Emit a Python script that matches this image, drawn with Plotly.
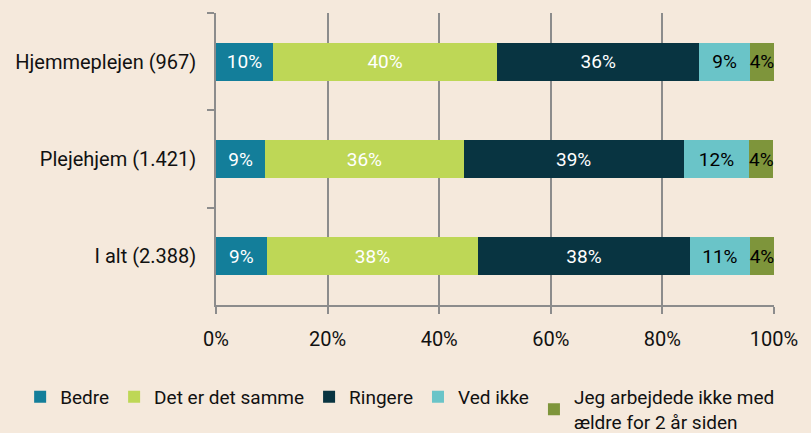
import plotly.graph_objects as go

categories = ["Hjemmeplejen (967)", "Plejehjem (1.421)", "I alt (2.388)"]
series_names = ["Bedre", "Det er det samme", "Ringere", "Ved ikke",
                "Jeg arbejdede ikke med<br>ældre for 2 år siden"]
bedre = [10.2, 8.8, 9.1]
samme = [40.2, 35.6, 37.9]
ringere = [36.2, 39.4, 37.9]
ved_ikke = [9.1, 11.8, 10.8]
jeg = [4.3, 4.3, 4.3]
labels = [
    ["10%", "9%", "9%"],
    ["40%", "36%", "38%"],
    ["36%", "39%", "38%"],
    ["9%", "12%", "11%"],
    ["4%", "4%", "4%"],
]
x_ticks = [0, 20, 40, 60, 80, 100]
x_tick_labels = ["0%", "20%", "40%", "60%", "80%", "100%"]

colors = ["#137E9A", "#BED756", "#083441", "#6AC4C8", "#7E953B"]
text_colors = ["white", "white", "white", "black", "black"]
values = [bedre, samme, ringere, ved_ikke, jeg]

FONT = "Roboto, sans-serif"
FS = 20
fig = go.Figure()
for name, vals, lab, col, tc in zip(series_names, values, labels, colors, text_colors):
    fig.add_trace(go.Bar(
        y=categories, x=vals, name=name, orientation="h",
        marker=dict(color=col, line=dict(width=0)),
        text=lab, textposition="inside", insidetextanchor="middle",
        textangle=0,
        textfont=dict(color=tc, size=19, family=FONT),
        constraintext="none", cliponaxis=False,
        hoverinfo="skip",
    ))

fig.update_layout(
    barmode="stack",
    bargap=0.61,
    width=811, height=433,
    paper_bgcolor="#F5E9DC", plot_bgcolor="#F5E9DC",
    margin=dict(l=216, r=37, t=13, b=128, autoexpand=False),
    font=dict(family=FONT, size=FS, color="#111111"),
    legend=dict(
        orientation="h",
        x=-0.351, xanchor="left", y=-0.25, yanchor="top",
        font=dict(size=19, family=FONT, color="#111111"),
        itemwidth=30, traceorder="normal", tracegroupgap=0,
        bgcolor="rgba(0,0,0,0)",
    ),
    showlegend=True,
)
fig.update_xaxes(
    range=[0, 100], tickvals=x_ticks, ticktext=x_tick_labels,
    showgrid=True, gridcolor="#8C8C8C", gridwidth=1.5,
    showline=True, linecolor="#8C8C8C", linewidth=1.5,
    ticks="outside", ticklen=7, tickcolor="#8C8C8C", tickwidth=1.5,
    ticklabelstandoff=8, zeroline=False,
    tickfont=dict(size=FS, family=FONT),
)
fig.update_yaxes(
    categoryorder="array", categoryarray=categories, autorange="reversed",
    showline=True, linecolor="#8C8C8C", linewidth=1.5,
    ticks="outside", tickson="boundaries", ticklen=7, tickcolor="#8C8C8C", tickwidth=1.5,
    showgrid=False, ticklabelstandoff=14,
    tickfont=dict(size=FS, family=FONT),
)
fig.write_html("out.html", config={"displayModeBar": False},
               post_script="document.body.style.margin='0';")
